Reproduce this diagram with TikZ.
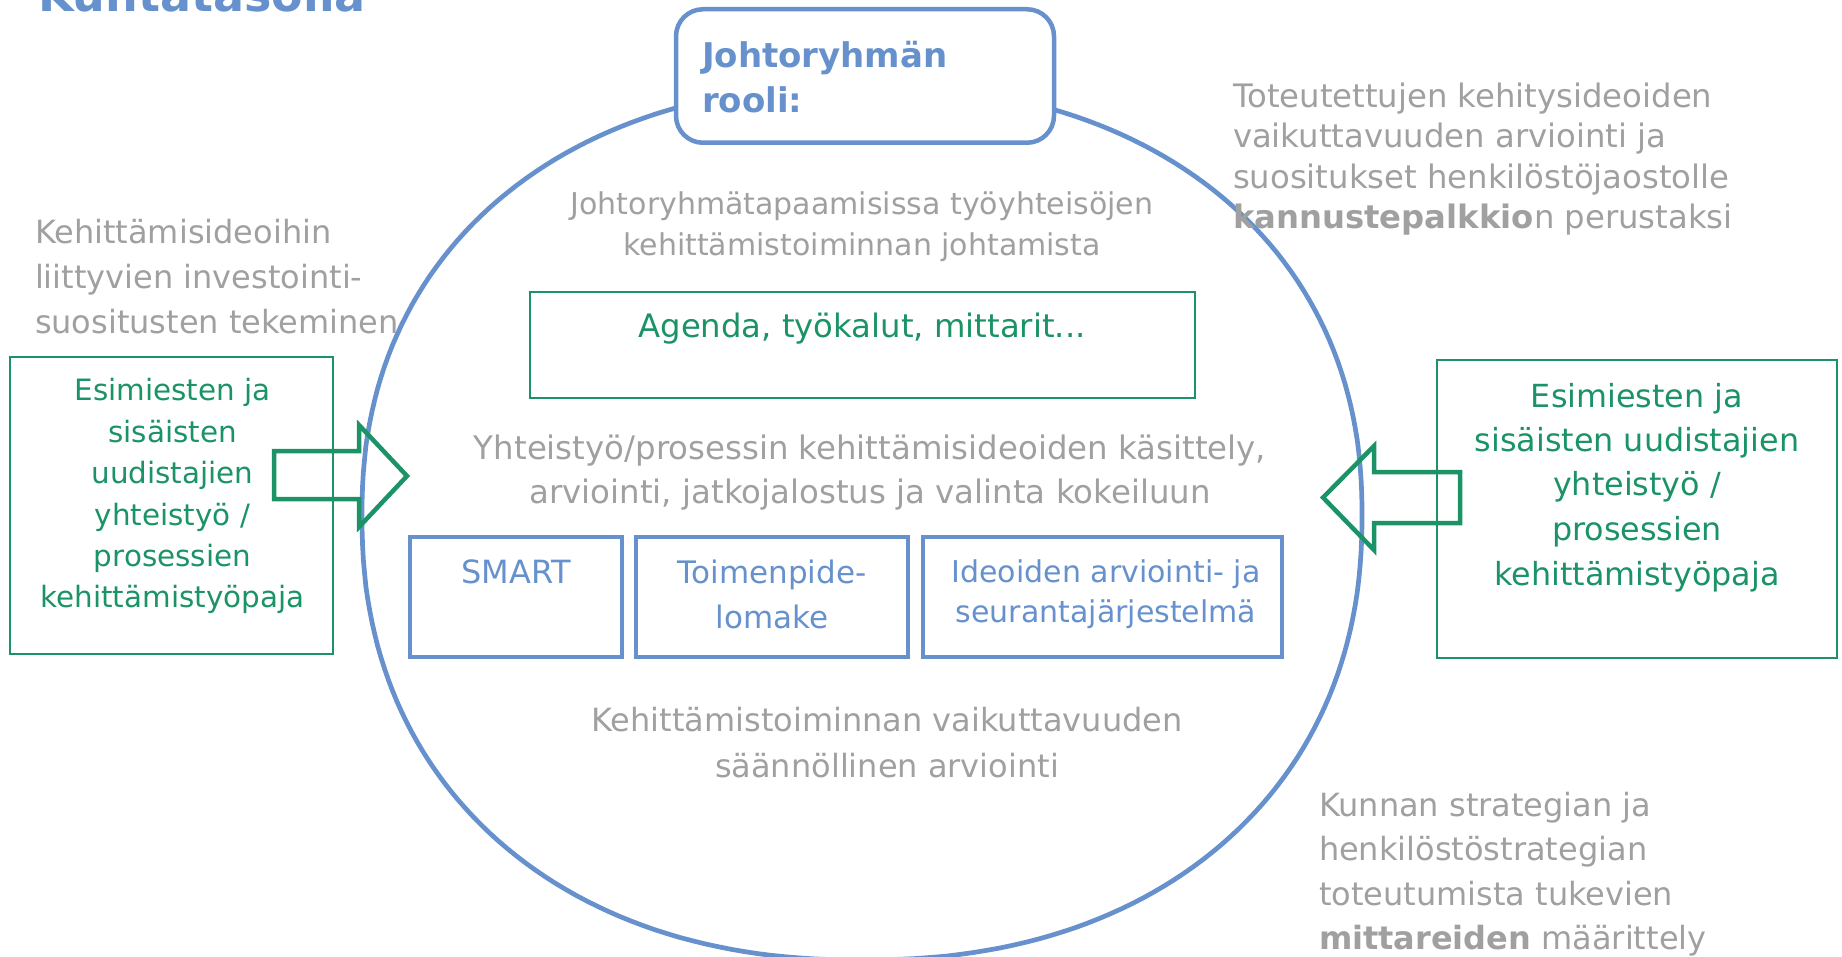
\documentclass[tikz,border=0pt]{standalone}
\usepackage{fontspec}
\setmainfont{DejaVu Sans}
\definecolor{rblue}{RGB}{102,145,204}
\definecolor{rgreen}{RGB}{27,147,103}
\definecolor{rgray}{RGB}{160,160,160}
% multi-line text block whose baseline is the first line
\newcommand\txtblock[2]{\begin{tabular}[t]{@{}#1@{}}#2\end{tabular}}
\newcommand\fs[2]{\fontsize{#1}{#2}\selectfont}
\tikzset{
  txt/.style={inner sep=0pt, outer sep=0pt},
  graytxt/.style={txt, text=rgray},
  greentxt/.style={txt, text=rgreen},
  bluetxt/.style={txt, text=rblue},
  ring/.style={draw=rblue, line width=4.7pt, line join=round},
  rolebox/.style={draw=rblue, fill=white, line width=4.5pt, rounded corners=27pt, inner sep=0pt},
  toolbox/.style={draw=rblue, line width=4pt, inner sep=0pt},
  greenbox/.style={draw=rgreen, line width=2pt, inner sep=0pt},
  blockarrow/.style={draw=rgreen, line width=4.5pt, line join=miter},
}
\begin{document}
\begin{tikzpicture}[x=1pt, y=-1pt]
\useasboundingbox (0,0) rectangle (1842,957);
\clip (0,0) rectangle (1842,957);

% slide title, cut by the top edge
\node[txt, text=rblue, anchor=base west] (title) at (38,12) {\fs{46}{50}\bfseries Kuntatasolla};

% the large ring: a slightly squared oval, a bit deeper below than above
\draw[ring] plot[domain=0.75:360.75, samples=240, variable=\t]
  ({862 + 500*sign(cos(\t))*abs(cos(\t))^(0.909)},
   {515 - (sin(\t) > 0 ? 430 : 445)*sign(sin(\t))*abs(sin(\t))^(0.909)}) -- cycle;

% role box on top of the ring
\node[rolebox, minimum width=378pt, minimum height=133.5pt] (role) at (865,76) {};
\node[bluetxt, anchor=base west] (roletxt) at (702,68)
  {\fs{34}{45}\bfseries\txtblock{l}{Johtoryhmän\\rooli:}};

% texts and boxes inside the ring
\node[graytxt, anchor=base] (meet) at (862,215)
  {\fs{30}{41}\txtblock{c}{Johtoryhmätapaamisissa työyhteisöjen\\kehittämistoiminnan johtamista}};

\node[greenbox, minimum width=665pt, minimum height=106pt] (agenda) at (862.5,345) {};
\node[greentxt, anchor=base] (agendatxt) at (862,338) {\fs{32.3}{40}Agenda, työkalut, mittarit...};

\node[graytxt, anchor=base] (coop) at (870,459)
  {\fs{32.4}{44}\txtblock{c}{Yhteistyö/prosessin kehittämisideoiden käsittely,\\arviointi, jatkojalostus ja valinta kokeiluun}};

\node[toolbox, minimum width=212pt, minimum height=120pt] (smart) at (516,596.5) {};
\node[toolbox, minimum width=272pt, minimum height=120pt] (toimen) at (772,596.5) {};
\node[toolbox, minimum width=359pt, minimum height=120pt] (ideo) at (1102.5,596.5) {};
\node[bluetxt, anchor=base] (smarttxt) at (516,583) {\fs{32}{45}SMART};
\node[bluetxt, anchor=base] (toimentxt) at (772,583) {\fs{31}{45}\txtblock{c}{Toimenpide-\\lomake}};
\node[bluetxt, anchor=base] (ideotxt) at (1106,582) {\fs{30}{40}\txtblock{c}{Ideoiden arviointi- ja\\seurantajärjestelmä}};

\node[graytxt, anchor=base] (eval) at (887,731)
  {\fs{32}{46}\txtblock{c}{Kehittämistoiminnan vaikuttavuuden\\säännöllinen arviointi}};

% texts around the ring
\node[graytxt, anchor=base west] (invest) at (35,244)
  {\fs{32}{44.6}\txtblock{l}{Kehittämisideoihin\\liittyvien investointi-\\suositusten tekeminen}};

\node[graytxt, anchor=base west] (reward) at (1233,107.5)
  {\fs{32.3}{40.3}\txtblock{l}{Toteutettujen kehitysideoiden\\vaikuttavuuden arviointi ja\\suositukset henkilöstöjaostolle\\\textbf{kannustepalkkio}n perustaksi}};

\node[graytxt, anchor=base west] (metrics) at (1319,816)
  {\fs{32}{44.5}\txtblock{l}{Kunnan strategian ja\\henkilöstöstrategian\\toteutumista tukevien\\\textbf{mittareiden} määrittely}};

% workshop boxes on both sides
\node[greenbox, minimum width=323pt, minimum height=297pt] (leftws) at (171.5,505.5) {};
\node[greentxt, anchor=base] (leftwstxt) at (172.5,401)
  {\fs{29.4}{41.4}\txtblock{c}{Esimiesten ja\\sisäisten\\uudistajien\\yhteistyö /\\prosessien\\kehittämistyöpaja}};

\node[greenbox, minimum width=400pt, minimum height=298pt] (rightws) at (1637,509) {};
\node[greentxt, anchor=base] (rightwstxt) at (1637,407)
  {\fs{31.8}{44.5}\txtblock{c}{Esimiesten ja\\sisäisten uudistajien\\yhteistyö /\\prosessien\\kehittämistyöpaja}};

% block arrows pointing into the ring
\draw[blockarrow] (274,451) -- (359,451) -- (359,425) -- (407,476)
  -- (359,527) -- (359,499) -- (274,499) -- cycle;
\draw[blockarrow] (1460,472) -- (1374,472) -- (1374,446) -- (1323,497.5)
  -- (1374,550) -- (1374,523) -- (1460,523) -- cycle;
\end{tikzpicture}
\end{document}
